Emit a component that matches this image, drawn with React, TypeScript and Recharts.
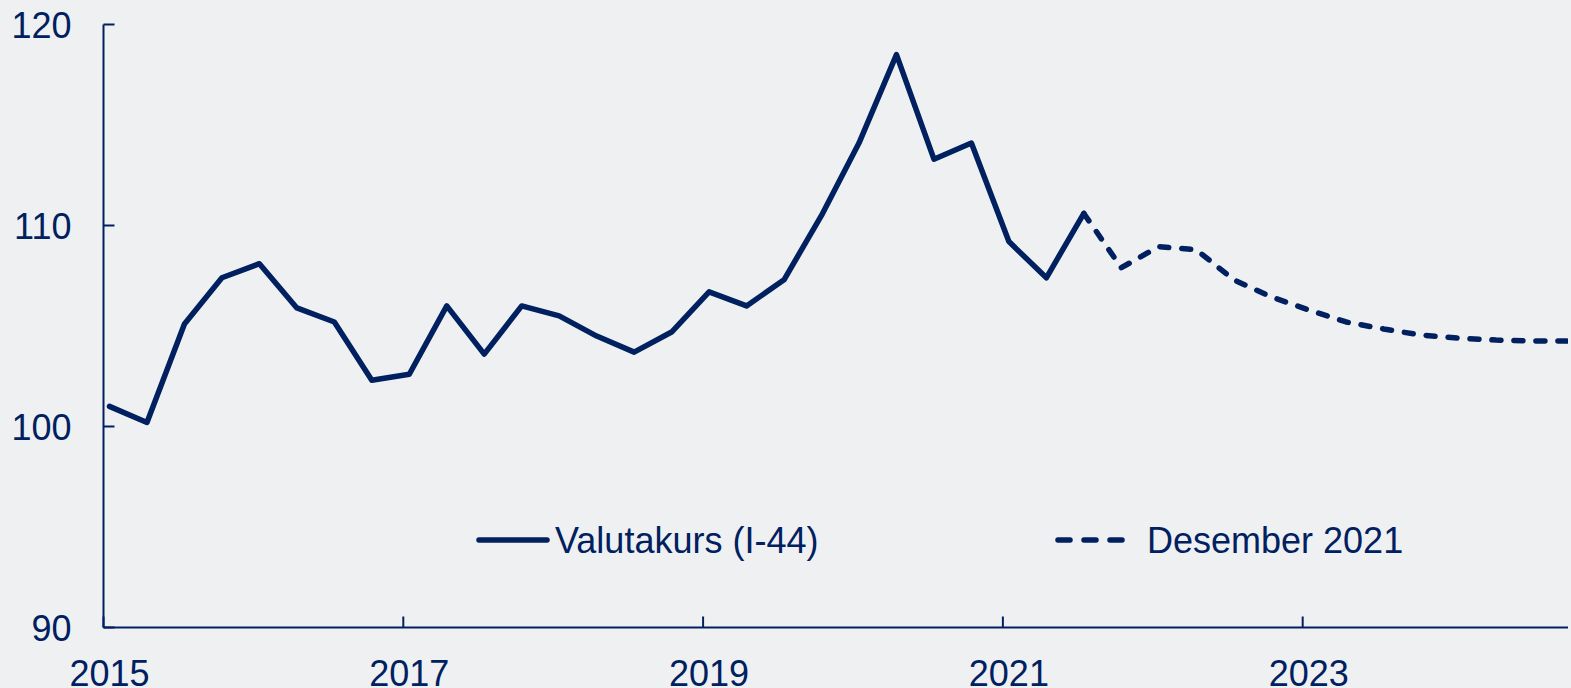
import React from 'react';
import { LineChart, Line, XAxis, YAxis, Legend } from 'recharts';

const quarterLabels = [
  '2015K1','2015K2','2015K3','2015K4','2016K1','2016K2','2016K3','2016K4',
  '2017K1','2017K2','2017K3','2017K4','2018K1','2018K2','2018K3','2018K4',
  '2019K1','2019K2','2019K3','2019K4','2020K1','2020K2','2020K3','2020K4',
  '2021K1','2021K2','2021K3','2021K4','2022K1','2022K2','2022K3','2022K4',
  '2023K1','2023K2','2023K3','2023K4','2024K1','2024K2','2024K3','2024K4',
];

const valutakurs = [
  101.0, 100.2, 105.1, 107.4, 108.1, 105.9, 105.2, 102.3,
  102.6, 106.0, 103.6, 106.0, 105.5, 104.5, 103.7, 104.7,
  106.7, 106.0, 107.3, 110.5, 114.1, 118.5, 113.3, 114.1,
  109.2, 107.4, 110.6,
];

// forecast starts at 2021K3
const forecastStart = 26;
const desember2021 = [
  110.6, 107.9, 108.95, 108.8, 107.3, 106.45, 105.8, 105.2,
  104.85, 104.55, 104.4, 104.3, 104.25, 104.25,
];

const xTicks = [2015, 2017, 2019, 2021, 2023];
const yTicks = [90, 100, 110, 120];

const NAVY = '#002060';
const BG = '#EFF0F2';
const FONT = '"Liberation Sans", Arial, Helvetica, sans-serif';

const toTime = (label: string) => {
  const year = parseInt(label.slice(0, 4), 10);
  const q = parseInt(label.slice(5), 10);
  return year + (q - 1) / 4 + 0.04;
};

const data = quarterLabels.map((label, i) => ({
  label,
  t: toTime(label),
  actual: i < valutakurs.length ? valutakurs[i] : undefined,
  forecast: i >= forecastStart ? desember2021[i - forecastStart] : undefined,
}));

const YTick = (props: any) => {
  const { x, y, payload } = props;
  return (
    <g>
      <line x1={x} x2={x + 11} y1={y} y2={y} stroke={NAVY} strokeWidth={2} />
      <text x={x - 32} y={y + 13} textAnchor="end" fill={NAVY} fontSize={36} fontFamily={FONT}>
        {payload.value}
      </text>
    </g>
  );
};

const XTick = (props: any) => {
  const { x, y, payload } = props;
  return (
    <g>
      <line x1={x} x2={x} y1={y} y2={y - 11} stroke={NAVY} strokeWidth={2} />
      <text x={x + 6} y={y + 58.5} textAnchor="middle" fill={NAVY} fontSize={36} fontFamily={FONT}>
        {payload.value}
      </text>
    </g>
  );
};

const LegendContent = () => (
  <div style={{ position: 'relative', width: 1571, height: 0, overflow: 'visible' }}>
    <svg width={1571} height={60} style={{ position: 'absolute', left: 0, top: 0, overflow: 'visible' }}>
      <line x1={479} x2={547} y1={25} y2={25} stroke={NAVY} strokeWidth={5.5} strokeLinecap="round" />
      <text x={555} y={38} fill={NAVY} fontSize={36} fontFamily={FONT}>Valutakurs (I-44)</text>
      <line x1={1058} x2={1122} y1={25} y2={25} stroke={NAVY} strokeWidth={5.5} strokeLinecap="round" strokeDasharray="12 14" />
      <text x={1147} y={38} fill={NAVY} fontSize={36} fontFamily={FONT}>Desember 2021</text>
    </svg>
  </div>
);

export default function App() {
  return (
    <div style={{ position: 'fixed', left: 0, top: 0, width: 1571, height: 688, background: BG, overflow: 'hidden' }}>
      <LineChart
        width={1571}
        height={688}
        data={data}
        margin={{ top: 24.5, right: 3, bottom: 0, left: 0 }}
      >
        <XAxis
          dataKey="t"
          type="number"
          domain={[2015, 2024.77]}
          ticks={xTicks}
          interval={0}
          allowDataOverflow
          height={60.5}
          axisLine={{ stroke: NAVY, strokeWidth: 2 }}
          tickLine={false}
          tickSize={0}
          tickMargin={0}
          tick={<XTick />}
        />
        <YAxis
          type="number"
          domain={[90, 120]}
          ticks={yTicks}
          interval={0}
          width={103.5}
          axisLine={{ stroke: NAVY, strokeWidth: 2 }}
          tickLine={false}
          tickSize={0}
          tickMargin={0}
          tick={<YTick />}
        />
        <Legend
          content={<LegendContent />}
          wrapperStyle={{ position: 'absolute', left: 0, top: 515, width: 1571, height: 0, overflow: 'visible' }}
        />
        <Line
          type="linear"
          dataKey="actual"
          stroke={NAVY}
          strokeWidth={5.5}
          strokeLinejoin="round"
          strokeLinecap="round"
          dot={false}
          activeDot={false}
          isAnimationActive={false}
          connectNulls={false}
        />
        <Line
          type="linear"
          dataKey="forecast"
          stroke={NAVY}
          strokeWidth={5.5}
          strokeLinejoin="round"
          strokeLinecap="round"
          strokeDasharray="9 13"
          dot={false}
          activeDot={false}
          isAnimationActive={false}
          connectNulls={false}
        />
      </LineChart>
    </div>
  );
}
